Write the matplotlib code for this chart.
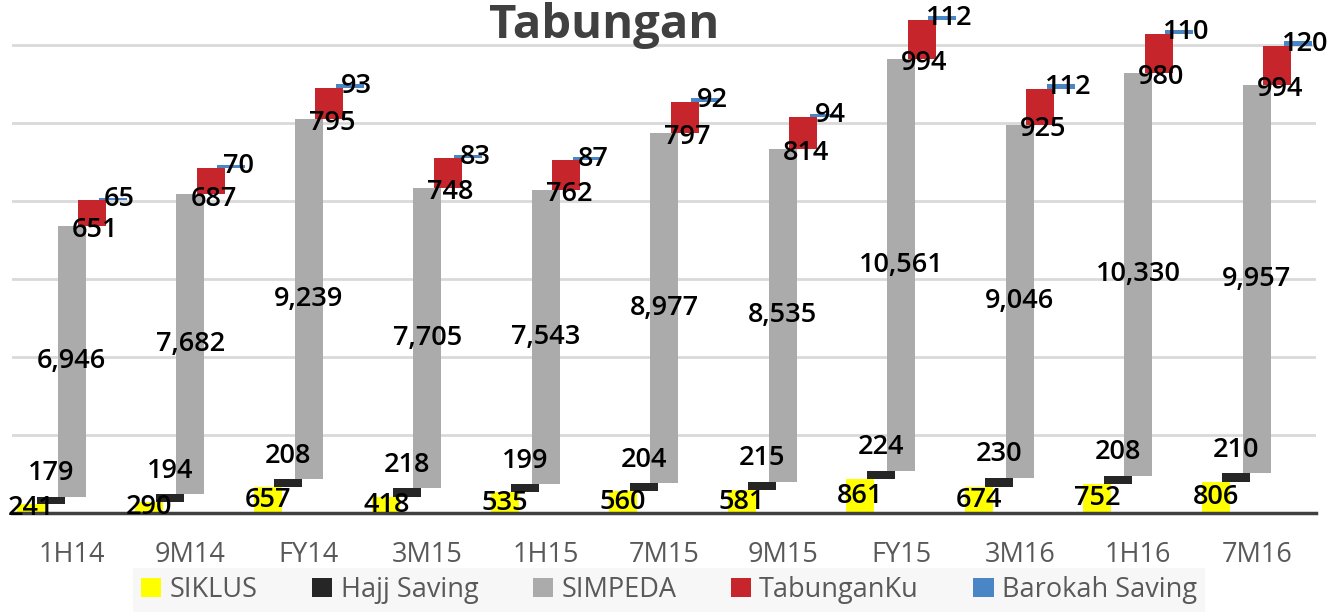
import numpy as np
import matplotlib.pyplot as plt
from matplotlib.patches import Patch

# data
categories = ['1H14', '9M14', 'FY14', '3M15', '1H15', '7M15', '9M15', 'FY15', '3M16', '1H16', '7M16']
series_names = ['SIKLUS', 'Hajj Saving', 'SIMPEDA', 'TabunganKu', 'Barokah Saving']
siklus = [241, 290, 657, 418, 535, 560, 581, 861, 674, 752, 806]
hajj = [179, 194, 208, 218, 199, 204, 215, 224, 230, 208, 210]
simpeda = [6946, 7682, 9239, 7705, 7543, 8977, 8535, 10561, 9046, 10330, 9957]
tabunganku = [651, 687, 795, 748, 762, 797, 814, 994, 925, 980, 994]
barokah = [65, 70, 93, 83, 87, 92, 94, 112, 112, 110, 120]

colors = ['#FFFF00', '#262626', '#ABABAB', '#C6252B', '#4A86C5']

plt.rcParams['font.family'] = ['Open Sans', 'DejaVu Sans']

fig = plt.figure(figsize=(13.4, 6.12), dpi=100)
ax = fig.add_axes([12.5 / 1340, 99 / 612, 1303.5 / 1340, 513 / 612])

values = [siklus, hajj, simpeda, tabunganku, barokah]
x = np.arange(len(categories)) + 0.5
step = 0.173
width = 0.236
bottom = np.zeros(len(categories))
fs = 19.5

for i, (vals, col) in enumerate(zip(values, colors)):
    vals = np.array(vals, dtype=float)
    xs = x + (i - 2) * step
    ax.bar(xs, vals, width=width, bottom=bottom, color=col, zorder=3)
    for xx, b, v in zip(xs, bottom, vals):
        lab = f'{int(v):,}'
        if i == 0 or i == 2:
            ax.text(xx, b + v / 2, lab, ha='center', va='center', fontsize=fs,
                    fontweight='semibold', zorder=5)
        elif i == 1:
            ax.annotate(lab, (xx, b + v), xytext=(0, 17), textcoords='offset points',
                        ha='center', va='center', fontsize=fs, fontweight='semibold', zorder=5)
        elif i == 3:
            ax.annotate(lab, (xx, b), xytext=(2, -3), textcoords='offset points',
                        ha='center', va='center', fontsize=fs, fontweight='semibold', zorder=5)
        else:
            ax.annotate(lab, (xx, b + v / 2), xytext=(5, 0), textcoords='offset points',
                        ha='center', va='center', fontsize=fs, fontweight='semibold', zorder=5)
    bottom = bottom + vals

ax.set_xlim(0, len(categories))
ax.set_ylim(0, 13150)
ax.set_yticks(np.arange(0, 13000, 2000))
ax.yaxis.grid(True, color='#D9D9D9', linewidth=2, zorder=0)
ax.set_axisbelow(True)
ax.tick_params(axis='y', length=0, labelleft=False)
ax.axhline(0, color='#404040', linewidth=2.5, zorder=4, clip_on=False)
for s in ax.spines.values():
    s.set_visible(False)

ax.set_xticks(x)
ax.set_xticklabels(categories, fontsize=19.5, color='#595959')
ax.tick_params(axis='x', length=0, pad=20)

# title sits just under the top edge
fig.text(0.451, 1 - 38 / 612, 'Tabungan', ha='center', va='baseline', fontsize=34,
         fontweight='bold', color='#404040')

handles = [Patch(facecolor=c) for c in colors]
leg = fig.legend(handles, series_names, loc='lower left', ncol=5, mode='expand',
                 bbox_to_anchor=(133 / 1340, 0, 1072 / 1340, 62 / 612),
                 borderaxespad=0, fontsize=19.5, frameon=True, fancybox=False,
                 handlelength=0.75, handleheight=0.75, handletextpad=0.3,
                 borderpad=0.3)
leg.get_frame().set_facecolor('#F2F2F2')
leg.get_frame().set_alpha(0.6)
leg.get_frame().set_linewidth(0)
for t in leg.get_texts():
    t.set_color('#595959')

fig.savefig('out.png', dpi=100)
